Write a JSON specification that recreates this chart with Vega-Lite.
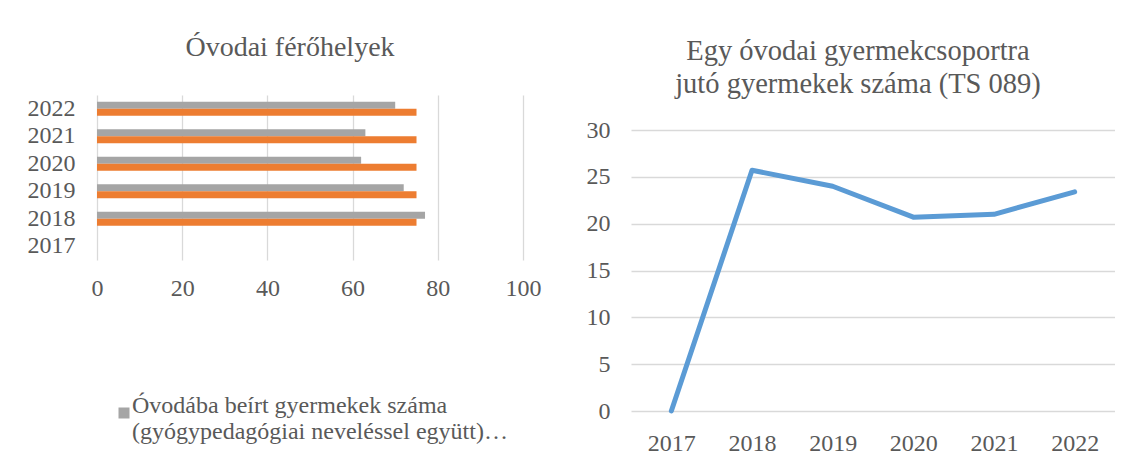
{
  "$schema": "https://vega.github.io/schema/vega-lite/v6.json",
  "background": "white",
  "padding": {"left": 27, "top": 34, "right": 0, "bottom": 0},
  "align": "none",
  "spacing": 45,
  "datasets": {
    "bars": [
      {"year": "2018", "series": "Óvodába beírt gyermekek száma (gyógypedagógiai neveléssel együtt)", "value": 77},
      {"year": "2018", "series": "Óvodai férőhelyek száma", "value": 75},
      {"year": "2019", "series": "Óvodába beírt gyermekek száma (gyógypedagógiai neveléssel együtt)", "value": 72},
      {"year": "2019", "series": "Óvodai férőhelyek száma", "value": 75},
      {"year": "2020", "series": "Óvodába beírt gyermekek száma (gyógypedagógiai neveléssel együtt)", "value": 62},
      {"year": "2020", "series": "Óvodai férőhelyek száma", "value": 75},
      {"year": "2021", "series": "Óvodába beírt gyermekek száma (gyógypedagógiai neveléssel együtt)", "value": 63},
      {"year": "2021", "series": "Óvodai férőhelyek száma", "value": 75},
      {"year": "2022", "series": "Óvodába beírt gyermekek száma (gyógypedagógiai neveléssel együtt)", "value": 70},
      {"year": "2022", "series": "Óvodai férőhelyek száma", "value": 75}
    ],
    "line": [
      {"year": "2017", "value": 0},
      {"year": "2018", "value": 25.7},
      {"year": "2019", "value": 24.0},
      {"year": "2020", "value": 20.7},
      {"year": "2021", "value": 21.0},
      {"year": "2022", "value": 23.4}
    ]
  },
  "hconcat": [
    {
      "width": 426,
      "height": 165,
      "data": {"name": "bars"},
      "title": {"text": "Óvodai férőhelyek", "fontSize": 28, "offset": 33, "dx": -20},
      "mark": {"type": "bar"},
      "encoding": {
        "y": {
          "field": "year", "type": "nominal",
          "scale": {"domain": ["2022", "2021", "2020", "2019", "2018", "2017"], "paddingInner": 0.49, "paddingOuter": 0.245},
          "axis": {"title": null, "domain": false, "ticks": false, "tickSize": 0, "labelPadding": 22, "grid": false}
        },
        "yOffset": {
          "field": "series", "type": "nominal",
          "scale": {"domain": ["Óvodába beírt gyermekek száma (gyógypedagógiai neveléssel együtt)", "Óvodai férőhelyek száma"]}
        },
        "x": {
          "field": "value", "type": "quantitative",
          "scale": {"domain": [0, 100], "nice": false},
          "axis": {"title": null, "values": [0, 20, 40, 60, 80, 100], "domain": false, "ticks": false, "tickSize": 0, "labelPadding": 16, "grid": true}
        },
        "color": {
          "field": "series", "type": "nominal",
          "scale": {
            "domain": ["Óvodába beírt gyermekek száma (gyógypedagógiai neveléssel együtt)", "Óvodai férőhelyek száma"],
            "range": ["#a5a5a5", "#ed7d31"]
          },
          "legend": {
            "title": null,
            "orient": "none",
            "legendX": 15,
            "legendY": 306,
            "values": ["Óvodába beírt gyermekek száma (gyógypedagógiai neveléssel együtt)"],
            "labelExpr": "datum.label == 'Óvodai férőhelyek száma' ? datum.label : ['Óvodába beírt gyermekek száma', '(gyógypedagógiai neveléssel együtt)…']",
            "symbolType": "square",
            "symbolSize": 121,
            "symbolStrokeWidth": 0,
            "labelFontSize": 24,
            "labelLimit": 600,
            "labelOffset": -4,
            "labelBaseline": "alphabetic"
          }
        }
      }
    },
    {
      "width": 484,
      "height": 316,
      "data": {"name": "line"},
      "title": {"text": ["Egy óvodai gyermekcsoportra", "jutó gyermekek száma (TS 089)"], "fontSize": 28.5, "lineHeight": 32.5, "offset": -3, "dx": -15},
      "mark": {"type": "line", "color": "#5b9bd5", "strokeWidth": 5, "strokeCap": "round", "strokeJoin": "round"},
      "encoding": {
        "x": {
          "field": "year", "type": "ordinal",
          "scale": {"type": "point", "padding": 0.5},
          "axis": {"title": null, "labelAngle": 0, "domain": false, "ticks": false, "tickSize": 0, "labelPadding": 20, "grid": false}
        },
        "y": {
          "field": "value", "type": "quantitative",
          "scale": {"domain": [0, 33.74], "nice": false, "zero": true},
          "axis": {"title": null, "values": [0, 5, 10, 15, 20, 25, 30], "domain": false, "ticks": false, "tickSize": 0, "labelPadding": 21, "grid": true}
        }
      }
    }
  ],
  "config": {
    "font": "Liberation Serif",
    "view": {"stroke": null},
    "title": {"font": "Liberation Serif", "fontWeight": "normal", "color": "#595959", "anchor": "middle", "frame": "group"},
    "axis": {"labelFont": "Liberation Serif", "labelFontSize": 24, "labelColor": "#595959", "gridColor": "#d9d9d9", "gridWidth": 1.3, "labelFlush": false, "labelOverlap": false},
    "legend": {"labelFont": "Liberation Serif", "labelColor": "#595959"}
  }
}
